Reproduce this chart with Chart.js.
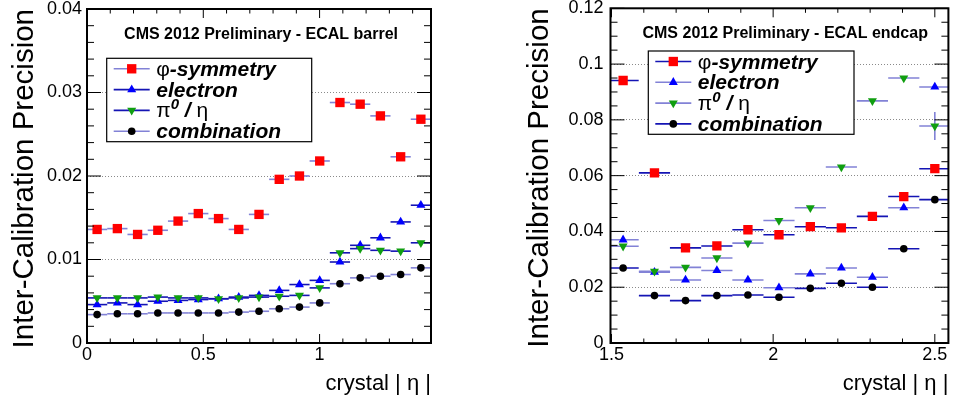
<!DOCTYPE html>
<html>
<head>
<meta charset="utf-8">
<script src="https://cdn.jsdelivr.net/npm/chart.js@4.4.1/dist/chart.umd.min.js"></script>
<style>
  html, body { margin: 0; padding: 0; background: #fff; }
  #wrap { position: relative; width: 955px; height: 399px; }
  .pane { position: absolute; top: 0; height: 399px; }
  #left { left: 0; width: 477px; }
  #right { left: 477px; width: 478px; }
</style>
</head>
<body>
<div id="wrap">
  <div class="pane" id="left"><canvas id="barrelChart"></canvas></div>
  <div class="pane" id="right"><canvas id="endcapChart"></canvas></div>
</div>
<script>
const FONT = '"Liberation Sans", Arial, Helvetica, sans-serif';

// 1) Barrel data (left pad)
const barrelEta = [0.0435, 0.1305, 0.2175, 0.3045, 0.3915, 0.4785, 0.5655, 0.6525, 0.7395,
                   0.8265, 0.9135, 1.0005, 1.0875, 1.1745, 1.2615, 1.3485, 1.4355];
const barrelPhiSym   = [0.0136, 0.0137, 0.0130, 0.0135, 0.0146, 0.0155, 0.0149, 0.0136, 0.0154,
                        0.0196, 0.0200, 0.0218, 0.0288, 0.0286, 0.0272, 0.0223, 0.0268];
const barrelElectron = [0.0046, 0.0048, 0.0046, 0.0050, 0.0051, 0.0052, 0.0053, 0.0055, 0.0057,
                        0.0063, 0.0070, 0.0075, 0.0097, 0.0117, 0.0126, 0.0145, 0.0165];
const barrelPi0      = [0.0054, 0.0054, 0.0054, 0.0055, 0.0054, 0.0054, 0.0053, 0.0054, 0.0055,
                        0.0056, 0.0057, 0.0066, 0.0108, 0.0113, 0.0111, 0.0110, 0.0120];
const barrelComb     = [0.0034, 0.0035, 0.0035, 0.0036, 0.0036, 0.0036, 0.0036, 0.0037, 0.0038,
                        0.0041, 0.0043, 0.0048, 0.0071, 0.0078, 0.0080, 0.0082, 0.0090];
const barrelHalfBin = 0.0435;
const barrelXTicks = [0, 0.5, 1];
const barrelYTicks = [0, 0.01, 0.02, 0.03, 0.04];

// 2) Endcap data (right pad)
const endcapEta = [1.536, 1.633, 1.729, 1.826, 1.922, 2.018, 2.115, 2.211, 2.307, 2.404, 2.500];
const endcapPhiSym   = [0.0941, 0.0610, 0.0341, 0.0348, 0.0406, 0.0388, 0.0417, 0.0413, 0.0454, 0.0525, 0.0625];
const endcapElectron = [0.0370, 0.0254, 0.0226, 0.0260, 0.0226, 0.0198, 0.0248, 0.0269, 0.0236, 0.0485, 0.0918];
const endcapPi0      = [0.0347, 0.0257, 0.0271, 0.0305, 0.0358, 0.0439, 0.0485, 0.0631, 0.0868, 0.0950, 0.0778];
const endcapPi0Err   = [0, 0, 0, 0, 0, 0, 0, 0, 0, 0, 0.005];
const endcapComb     = [0.0269, 0.0170, 0.0152, 0.0170, 0.0172, 0.0164, 0.0196, 0.0214, 0.0200, 0.0338, 0.0514];
const endcapHalfBin = 0.0482;
const endcapXTicks = [1.5, 2, 2.5];
const endcapYTicks = [0, 0.02, 0.04, 0.06, 0.08, 0.1, 0.12];

const seriesNames = ['φ-symmetry', 'electron', 'π0 / η', 'combination'];

const DARK = '#1414b4';
const LIGHT = '#8282d6';

// legend text pieces (mixed upright greek / bold italic latin)
const legendParts = [
  [{ t: 'φ', f: '21px ' + FONT }, { t: '-symmetry', f: 'italic bold 21px ' + FONT }],
  [{ t: 'electron', f: 'italic bold 21px ' + FONT }],
  [{ t: 'π', f: '21px ' + FONT }, { t: '0', f: 'italic bold 15px ' + FONT, dy: -8 },
   { t: ' / ', f: 'italic bold 21px ' + FONT }, { t: 'η', f: '21px ' + FONT }],
  [{ t: 'combination', f: 'italic bold 21px ' + FONT }]
];

function drawMarker(ctx, ds, x, y) {
  const r = ds.pointRadius;
  ctx.fillStyle = ds.backgroundColor;
  ctx.beginPath();
  if (ds.pointStyle === 'rect') {
    const s = Math.SQRT1_2 * r;
    ctx.rect(x - s, y - s, 2 * s, 2 * s);
  } else if (ds.pointStyle === 'triangle') {
    let rad = (ds.pointRotation || 0) * Math.PI / 180;
    ctx.moveTo(x + Math.sin(rad) * r, y - Math.cos(rad) * r);
    rad += 2 * Math.PI / 3;
    ctx.lineTo(x + Math.sin(rad) * r, y - Math.cos(rad) * r);
    rad += 2 * Math.PI / 3;
    ctx.lineTo(x + Math.sin(rad) * r, y - Math.cos(rad) * r);
    ctx.closePath();
  } else {
    ctx.arc(x, y, r, 0, 2 * Math.PI);
  }
  ctx.fill();
}

function innerTicks(ctx, scale, a, minor, majLen, minLen) {
  const majors = scale.ticks.map(t => t.value);
  const first = Math.ceil(scale.min / minor - 1e-6);
  for (let k = first; k * minor <= scale.max + 1e-9; k++) {
    const v = k * minor;
    const isMajor = majors.some(m => Math.abs(m - v) < minor / 10);
    const len = isMajor ? majLen : minLen;
    const p = scale.getPixelForValue(v);
    ctx.beginPath();
    if (scale.isHorizontal()) {
      ctx.moveTo(p, a.bottom); ctx.lineTo(p, a.bottom - len);
      ctx.moveTo(p, a.top); ctx.lineTo(p, a.top + len);
    } else {
      ctx.moveTo(a.left, p); ctx.lineTo(a.left + len, p);
      ctx.moveTo(a.right, p); ctx.lineTo(a.right - len, p);
    }
    ctx.stroke();
  }
}

// ROOT-like pad: error bars, frame, inner ticks, title, legend box
const rootPad = {
  id: 'rootPad',
  beforeDatasetDraw(chart, args) {
    const ds = chart.data.datasets[args.index];
    const { ctx, chartArea: a, scales: { x, y } } = chart;
    ctx.save();
    ctx.beginPath();
    ctx.rect(a.left, a.top, a.width, a.height);
    ctx.clip();
    ctx.strokeStyle = ds.barColor;
    ctx.lineWidth = 1.6;
    ds.data.forEach((p, i) => {
      const py = y.getPixelForValue(p.y);
      ctx.beginPath();
      ctx.moveTo(x.getPixelForValue(p.x - ds.halfBin), py);
      ctx.lineTo(x.getPixelForValue(p.x + ds.halfBin), py);
      const e = ds.yErr ? ds.yErr[i] : 0;
      if (e) {
        const px = x.getPixelForValue(p.x);
        ctx.moveTo(px, y.getPixelForValue(p.y - e));
        ctx.lineTo(px, y.getPixelForValue(p.y + e));
      }
      ctx.stroke();
    });
    ctx.restore();
  },
  afterDraw(chart, args, opts) {
    const { ctx, chartArea: a, scales: { x, y } } = chart;
    ctx.save();
    // ticks
    ctx.strokeStyle = '#000';
    ctx.lineWidth = 1;
    innerTicks(ctx, x, a, opts.minorX, 9, 4.5);
    innerTicks(ctx, y, a, opts.minorY, 14, 7);
    // frame
    ctx.lineWidth = 2;
    ctx.strokeRect(a.left, a.top, a.width, a.height);
    // title
    ctx.fillStyle = '#000';
    ctx.font = 'bold 16px ' + FONT;
    ctx.textAlign = 'center';
    ctx.textBaseline = 'alphabetic';
    ctx.fillText(opts.title, a.left + opts.titleFrac * a.width, a.top + 30);
    // legend
    const L = opts.legend;
    const bx = a.left + L.dx, by = a.top + L.dy;
    ctx.fillStyle = '#fff';
    ctx.fillRect(bx, by, L.w, L.h);
    ctx.strokeStyle = '#000';
    ctx.lineWidth = 1.2;
    ctx.strokeRect(bx, by, L.w, L.h);
    ctx.textAlign = 'left';
    chart.data.datasets.forEach((ds, i) => {
      const cy = by + 10.5 + 20.8 * i;
      ctx.strokeStyle = ds.barColor;
      ctx.lineWidth = 1.6;
      ctx.beginPath();
      ctx.moveTo(bx + 7, cy);
      ctx.lineTo(bx + 43, cy);
      ctx.stroke();
      drawMarker(ctx, ds, bx + 25, cy);
      let tx = bx + 49.5;
      ctx.fillStyle = '#000';
      legendParts[i].forEach(p => {
        ctx.font = p.f;
        ctx.fillText(p.t, tx, cy + 7 + (p.dy || 0));
        tx += ctx.measureText(p.t).width;
      });
    });
    ctx.restore();
  }
};

function points(xs, ys) {
  return xs.map((v, i) => ({ x: v, y: ys[i] }));
}

// keep label overhang from moving the frame
function noPadding(s) {
  s.paddingTop = 0; s.paddingBottom = 0; s.paddingLeft = 0; s.paddingRight = 0;
}

function makeChart(canvasId, cfg) {
  const common = (label, data, style, r, color, barColor, order) => ({
    label, data, pointStyle: style, pointRadius: r, pointHoverRadius: r,
    backgroundColor: color, borderColor: color, pointBorderWidth: 0, borderWidth: 0,
    showLine: false, barColor, halfBin: cfg.halfBin, order
  });
  const datasets = [
    common(seriesNames[0], points(cfg.eta, cfg.phiSym), 'rect', 6.6, '#ff0000', cfg.barColors[0], 4),
    common(seriesNames[1], points(cfg.eta, cfg.electron), 'triangle', 5.2, '#0000ff', cfg.barColors[1], 3),
    Object.assign(common(seriesNames[2], points(cfg.eta, cfg.pi0), 'triangle', 5.2, '#109e10', cfg.barColors[2], 2),
                  { pointRotation: 180, yErr: cfg.pi0Err }),
    common(seriesNames[3], points(cfg.eta, cfg.comb), 'circle', 3.8, '#000000', cfg.barColors[3], 1)
  ];

  return new Chart(document.getElementById(canvasId), {
    type: 'scatter',
    data: { datasets },
    plugins: [rootPad],
    options: {
      responsive: true,
      maintainAspectRatio: false,
      animation: false,
      events: [],
      layout: { padding: cfg.padding },
      plugins: {
        legend: { display: false },
        tooltip: { enabled: false },
        rootPad: {
          title: cfg.title, titleFrac: cfg.titleFrac, legend: cfg.legend,
          minorX: cfg.minorX, minorY: cfg.minorY
        }
      },
      scales: {
        x: {
          type: 'linear',
          min: cfg.xMin, max: cfg.xMax,
          afterBuildTicks: s => { s.ticks = cfg.xTicks.map(v => ({ value: v })); },
          afterFit: s => { s.height = 56; noPadding(s); },
          grid: { display: false, drawTicks: false },
          border: { display: false },
          ticks: {
            color: '#000', padding: 3, maxRotation: 0, autoSkip: false,
            font: { family: FONT, size: 18, lineHeight: 1 },
            callback: v => String(v)
          },
          title: {
            display: true, text: 'crystal | η |', align: 'end', color: '#000',
            font: { family: FONT, size: 22 }, padding: { top: 0, bottom: 1.7 }
          }
        },
        y: {
          type: 'linear',
          min: cfg.yTicks[0], max: cfg.yTicks[cfg.yTicks.length - 1],
          afterBuildTicks: s => { s.ticks = cfg.yTicks.map(v => ({ value: v })); },
          afterFit: s => { s.width = cfg.yWidth; noPadding(s); },
          grid: { color: '#8a8a8a', lineWidth: 1, drawTicks: false },
          border: { display: false, dash: [1, 2] },
          ticks: {
            color: '#000', padding: cfg.yPad,
            font: { family: FONT, size: 18, lineHeight: 1 },
            callback: v => String(v)
          },
          title: {
            display: true, text: 'Inter-Calibration Precision', align: 'end', color: '#000',
            font: { family: FONT, size: 29.5 }, padding: { top: cfg.yTitlePad, bottom: 0 }
          }
        }
      }
    }
  });
}

// 3) Build both pads
makeChart('barrelChart', {
  eta: barrelEta, phiSym: barrelPhiSym, electron: barrelElectron, pi0: barrelPi0, pi0Err: null, comb: barrelComb,
  halfBin: barrelHalfBin, xTicks: barrelXTicks, yTicks: barrelYTicks, xMin: 0, xMax: 1.479,
  barColors: [LIGHT, DARK, DARK, LIGHT],
  title: 'CMS 2012 Preliminary - ECAL barrel', titleFrac: 0.506,
  legend: { dx: 19.7, dy: 49.3, w: 205, h: 83.4 },
  minorX: 0.1, minorY: 0.002,
  padding: { top: 9, right: 46, left: 0, bottom: 0 },
  yWidth: 87, yPad: 5, yTitlePad: 6.8
});

makeChart('endcapChart', {
  eta: endcapEta, phiSym: endcapPhiSym, electron: endcapElectron, pi0: endcapPi0, pi0Err: endcapPi0Err, comb: endcapComb,
  halfBin: endcapHalfBin, xTicks: endcapXTicks, yTicks: endcapYTicks, xMin: 1.497, xMax: 2.542,
  barColors: [DARK, LIGHT, LIGHT, DARK],
  title: 'CMS 2012 Preliminary - ECAL endcap', titleFrac: 0.517,
  legend: { dx: 37.8, dy: 42.7, w: 205.7, h: 83.3 },
  minorX: 0.1, minorY: 0.005,
  padding: { top: 8.3, right: 4, left: 0, bottom: 0 },
  yWidth: 133.5, yPad: 7, yTitlePad: 45.5
});
</script>
</body>
</html>
